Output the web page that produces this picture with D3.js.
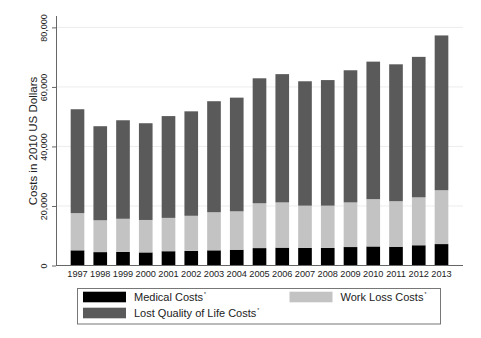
<!DOCTYPE html>
<html>
<head>
<meta charset="utf-8">
<script src="https://cdn.jsdelivr.net/npm/d3@7"></script>
<style>
  body { margin: 0; background: #fff; }
  svg { display: block; font-family: "Liberation Sans", Arial, sans-serif; }
</style>
</head>
<body>
<svg width="481" height="338"></svg>
<script>
// anos e componentes de custo
var anos = ["1997", "1998", "1999", "2000", "2001", "2002", "2003", "2004", "2005",
            "2006", "2007", "2008", "2009", "2010", "2011", "2012", "2013"];
var medicos = [5100, 4500, 4600, 4400, 4800, 4900, 5100, 5300, 5850,
               6000, 5900, 5900, 6200, 6400, 6300, 6800, 7200];
var perdaTrabalho = [12500, 10700, 11100, 10900, 11200, 11800, 12800, 12900, 15050,
                     15200, 14200, 14200, 15000, 15900, 15300, 16100, 18100];
var qualidadeVida = [34900, 31600, 33100, 32500, 34200, 35100, 37300, 38200, 42000,
                     43100, 41800, 42200, 44400, 46200, 46000, 47200, 52000];
var yTicks = [0, 20000, 40000, 60000, 80000];
var series = ["Medical Costs", "Work Loss Costs", "Lost Quality of Life Costs"];

var cores = {"Medical Costs": "#000000", "Work Loss Costs": "#c3c3c3",
             "Lost Quality of Life Costs": "#5a5a5a"};

var svg = d3.select("svg");
const esq = 56, dir = 463, base = 265.5, topo = 15.5;

var tabela = anos.map(function(a, i) {
  return {ano: a, "Medical Costs": medicos[i], "Work Loss Costs": perdaTrabalho[i],
          "Lost Quality of Life Costs": qualidadeVida[i]};
});
var pilha = d3.stack().keys(series)(tabela);

var x = d3.scaleBand().domain(anos).range([esq, dir])
    .paddingInner(0.4).paddingOuter(0.645);
var y = d3.scaleLinear().domain([0, 84000]).range([base, topo]);

// linhas de grade
svg.append("g")
  .selectAll("line")
  .data(yTicks.slice(1))
  .enter().append("line")
    .attr("x1", esq).attr("x2", dir)
    .attr("y1", function(d){ return y(d); })
    .attr("y2", function(d){ return y(d); })
    .attr("stroke", "#ececec").attr("stroke-width", 1);

// barras empilhadas
svg.append("g")
  .selectAll("g")
  .data(pilha)
  .enter().append("g")
    .attr("fill", function(d){ return cores[d.key]; })
  .selectAll("rect")
  .data(function(d){ return d; })
  .enter().append("rect")
    .attr("x", function(d){ return x(d.data.ano); })
    .attr("width", x.bandwidth())
    .attr("y", function(d){ return y(d[1]); })
    .attr("height", function(d){ return y(d[0]) - y(d[1]); });

// eixo y
var eixoY = svg.append("g")
    .attr("transform", "translate(" + esq + ",0)")
    .call(d3.axisLeft(y).tickValues(yTicks).tickSize(4).tickSizeOuter(0)
          .tickFormat(d3.format(",")));
eixoY.select(".domain").attr("stroke", "#666");
eixoY.selectAll(".tick line").attr("stroke", "#666");
eixoY.selectAll(".tick text")
    .attr("transform", "rotate(-90)")
    .attr("x", 0).attr("y", -9).attr("dy", 0)
    .attr("text-anchor", "middle")
    .attr("font-size", 9).attr("fill", "#222")
    .attr("font-family", "Liberation Sans, Arial, sans-serif");

// eixo x
var eixoX = svg.append("g")
    .attr("transform", "translate(0," + base + ")")
    .call(d3.axisBottom(x).tickSize(0).tickPadding(5));
eixoX.select(".domain").attr("stroke", "#666").attr("d", "M" + esq + ",0H" + dir);
eixoX.selectAll(".tick text")
    .attr("font-size", 9.2).attr("fill", "#222")
    .attr("font-family", "Liberation Sans, Arial, sans-serif");

// título do eixo y
svg.append("text")
    .attr("transform", "translate(37,141) rotate(-90)")
    .attr("text-anchor", "middle")
    .attr("font-size", 11.5).attr("fill", "#222")
    .text("Costs in 2010 US Dollars");

// legenda
var legenda = svg.append("g");
legenda.append("rect")
    .attr("x", 77.5).attr("y", 288.5).attr("width", 363).attr("height", 35.5)
    .attr("fill", "none").attr("stroke", "#777").attr("stroke-width", 1);

var posLegenda = [{x: 83, y: 291.7}, {x: 289.5, y: 291.7}, {x: 83, y: 307.7}];
var itens = legenda.selectAll("g.item")
  .data(series)
  .enter().append("g")
    .attr("class", "item")
    .attr("transform", function(d, i){
      return "translate(" + posLegenda[i].x + "," + posLegenda[i].y + ")"; });
itens.append("rect")
    .attr("width", 43).attr("height", 10.6)
    .attr("fill", function(d){ return cores[d]; });
var rotulos = itens.append("text")
    .attr("x", 51).attr("y", 9.4)
    .attr("font-size", 11).attr("fill", "#222");
rotulos.append("tspan").text(function(d){ return d; });
rotulos.append("tspan")
    .attr("font-size", 5).attr("dy", -5).attr("dx", 1)
    .text("*");
</script>
</body>
</html>
